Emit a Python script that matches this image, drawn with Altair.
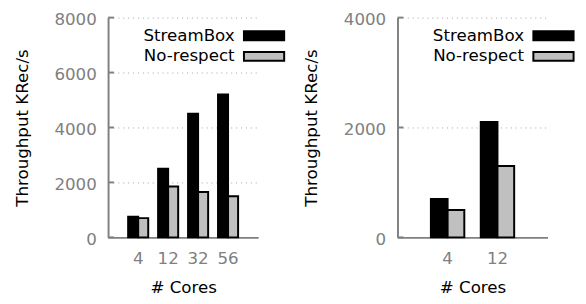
import altair as alt
import pandas as pd

series = ["StreamBox", "No-respect"]
fill_colors = ["#000000", "#c0c0c0"]

left_cores = ["4", "12", "32", "56"]
left_streambox = [750, 2500, 4500, 5200]
left_norespect = [700, 1850, 1650, 1500]
left_ticks = [0, 2000, 4000, 6000, 8000]

right_cores = ["4", "12"]
right_streambox = [700, 2100]
right_norespect = [500, 1300]
right_ticks = [0, 2000, 4000]

FONT = "DejaVu Sans"
W, H = 153, 224
YTITLE = "Throughput KRec/s"


def panel(cores, sb, nr, ymax, ticks):
    df = pd.DataFrame({
        "cores": cores * 2,
        "series": [series[0]] * len(cores) + [series[1]] * len(cores),
        "value": sb + nr,
    })
    tdf = pd.DataFrame({"tick": ticks})
    yscale = alt.Scale(domain=[0, ymax], nice=False, zero=True)
    yaxis = alt.Axis(title=YTITLE, values=ticks, format="d", ticks=False, tickSize=0,
                     labelPadding=12, titlePadding=23, labelOffset=2, grid=True,
                     gridDash=[1, 4], gridColor="#a0a0a0", gridWidth=1)
    bars = alt.Chart(df).mark_bar(stroke="black", strokeWidth=2, strokeJoin="miter").encode(
        x=alt.X("cores:N", sort=cores,
                scale=alt.Scale(paddingInner=0.33, paddingOuter=0.67),
                axis=alt.Axis(title="# Cores", labelAngle=0, ticks=False, tickSize=0,
                              labelPadding=14, titlePadding=13, grid=False)),
        xOffset=alt.XOffset("series:N", sort=series,
                            scale=alt.Scale(paddingInner=0, paddingOuter=0)),
        y=alt.Y("value:Q", scale=yscale, axis=yaxis),
        color=alt.Color("series:N", sort=series,
                        scale=alt.Scale(domain=series, range=fill_colors),
                        legend=alt.Legend(orient="none", legendX=112, legendY=10, title=None,
                                          symbolType="M3.6,-0.9H11.8V0.9H3.6Z", symbolSize=100,
                                          symbolStrokeColor="black", symbolStrokeWidth=2,
                                          symbolOpacity=1,
                                          labelAlign="right", labelOffset=0, rowPadding=3)),
    )
    tickmarks = alt.Chart(tdf).mark_rule(color="#808080", strokeWidth=2).encode(
        y=alt.Y("tick:Q", scale=yscale, axis=yaxis),
        x=alt.value(0),
        x2=alt.value(6),
    )
    return alt.layer(bars, tickmarks).properties(width=W, height=H)


left = panel(left_cores, left_streambox, left_norespect, 8000, left_ticks)
right = panel(right_cores, right_streambox, right_norespect, 4000, right_ticks)

chart = alt.hconcat(left, right, spacing=142, bounds="flush").resolve_scale(
    color="independent", y="independent", x="independent", xOffset="independent"
).resolve_legend(color="independent").properties(
    padding={"left": 5, "top": 0, "right": 0, "bottom": 0}
).configure_axis(
    labelFont=FONT, titleFont=FONT, labelFontSize=17, titleFontSize=17,
    labelColor="#808080", titleColor="black", titleFontWeight="normal",
    domainColor="#808080", domainWidth=2,
).configure_legend(
    labelFont=FONT, labelFontSize=17, labelColor="black", padding=0,
).configure_view(stroke=None)

chart.save("out.html", embed_options={"renderer": "svg", "actions": False})
